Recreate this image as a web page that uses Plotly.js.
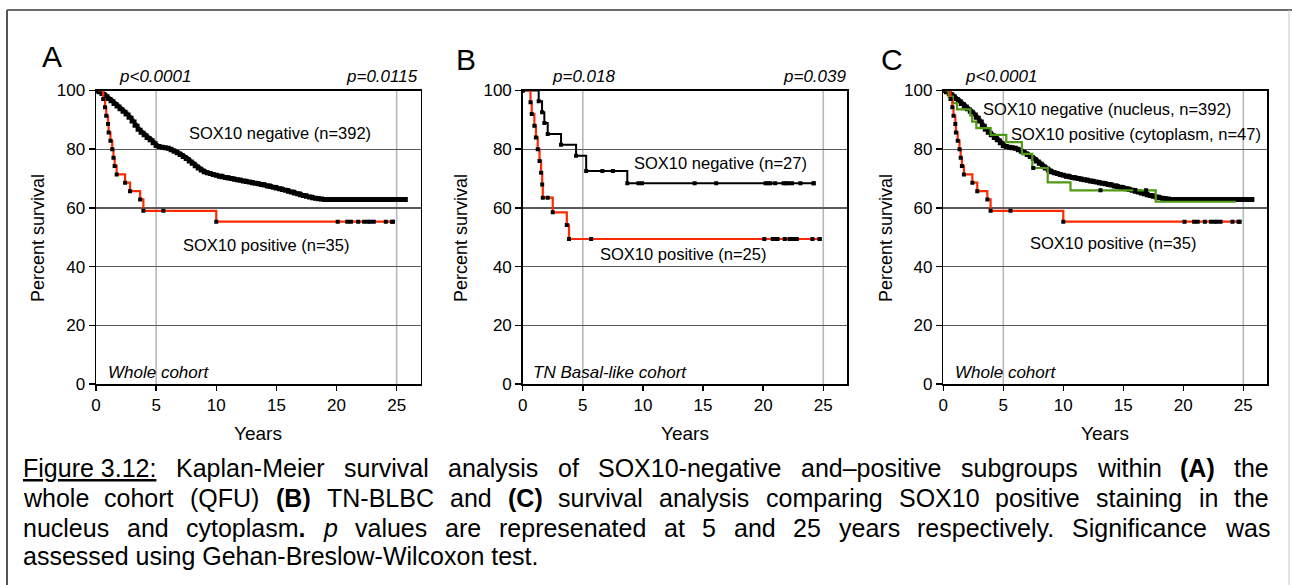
<!DOCTYPE html>
<html><head><meta charset="utf-8">
<script src="https://cdn.plot.ly/plotly-3.0.1.min.js"></script>
<style>html,body{margin:0;padding:0;background:#fff;}#chart{width:1292px;height:585px;}</style>
</head><body><div id="chart"></div>
<script>
// ---------------- DATA ----------------
// Whole cohort, SOX10 negative (n=392) – used in panels A and C
const negTimes = [0,0.25,0.5,0.75,1.0,1.25,1.5,1.75,2.0,2.25,2.5,2.75,3.0,3.25,3.5,3.75,4.0,4.25,4.5,4.75,5.0,5.25,5.5,5.75,6.0,6.25,6.5,6.75,7.0,7.25,7.5,7.75,8.0,8.25,8.5,8.75,9.0,9.25,9.5,9.75,10.0,10.5,11.0,11.5,12.0,12.5,13.0,13.5,14.0,14.5,15.0,15.5,16.0,16.5,17.0,17.5,18.0,18.5,19.0,25.7];
const negSurv  = [100,99.6,99.0,98.2,97.3,96.5,95.6,94.7,93.8,92.9,92.0,90.9,89.6,88.2,86.8,85.8,84.9,84.0,83.2,82.2,81.3,80.9,80.7,80.5,80.3,79.8,79.3,78.8,78.2,77.5,76.8,76.0,75.2,74.4,73.6,72.9,72.3,72.0,71.7,71.4,71.1,70.6,70.2,69.8,69.4,69.0,68.6,68.2,67.8,67.3,66.8,66.3,65.7,65.1,64.5,64.0,63.5,63.1,62.9,62.9];
const negCensorTimes = [10.25,10.75,11.25,11.75,12.25,12.75,13.25,13.75,14.25,14.75,15.25,15.75,16.25,16.75,17.25,17.75,18.25,18.75,19.3,19.6,19.9,20.2,20.5,20.8,21.1,21.4,21.7,22.0,22.3,22.6,22.9,23.2,23.5,23.8,24.1,24.4,24.7,25.0,25.3,25.7];
const negCensorSurv  = [70.8,70.4,70.0,69.6,69.2,68.8,68.4,68.0,67.5,67.0,66.5,66.0,65.4,64.8,64.2,63.7,63.3,63.0,62.9,62.9,62.9,62.9,62.9,62.9,62.9,62.9,62.9,62.9,62.9,62.9,62.9,62.9,62.9,62.9,62.9,62.9,62.9,62.9,62.9,62.9];

// Whole cohort, SOX10 positive (n=35) – panels A and C
const posTimes = [0,0.6,0.75,0.85,1.0,1.05,1.2,1.35,1.45,1.55,1.72,2.42,2.83,3.67,3.94,10.0,24.7];
const posSurv  = [100,97.1,94.3,91.4,88.6,85.7,82.9,80.0,77.1,74.3,71.4,68.6,65.7,62.9,59.0,55.3,55.3];
const posCensorTimes = [5.6,20.1,20.9,21.2,21.8,22.3,22.6,22.8,23.1,24.1,24.6];
const posCensorSurv  = [59.0,55.3,55.3,55.3,55.3,55.3,55.3,55.3,55.3,55.3,55.3];

// TN Basal-like cohort, SOX10 negative (n=27) – panel B
const tnNegTimes = [0,1.33,1.61,1.8,2.08,3.19,4.44,5.28,8.7,24.2];
const tnNegSurv  = [100,96.3,92.6,88.9,85.2,81.5,77.8,72.6,68.4,68.4];
const tnNegCensorTimes = [6.63,7.5,9.63,9.92,14.3,16.1,20.2,20.4,20.6,21.0,21.7,21.9,22.1,22.4,23.1,24.2];
const tnNegCensorSurv  = [72.6,72.6,68.4,68.4,68.4,68.4,68.4,68.4,68.4,68.4,68.4,68.4,68.4,68.4,68.4,68.4];

// TN Basal-like cohort, SOX10 positive (n=25) – panel B
const tnPosTimes = [0,0.65,0.75,0.97,1.1,1.25,1.4,1.53,1.62,1.67,2.5,3.67,3.85,24.7];
const tnPosSurv  = [100,96,92,88,84,80,76,72,68,63.5,58.5,54.2,49.4,49.4];
const tnPosCensorTimes = [2.08,5.69,20.1,20.8,21.0,21.2,21.8,22.2,22.4,22.6,22.8,24.1,24.7];
const tnPosCensorSurv  = [63.5,49.4,49.4,49.4,49.4,49.4,49.4,49.4,49.4,49.4,49.4,49.4,49.4];

// Whole cohort, SOX10 positive cytoplasm (n=47) – panel C
const cytoTimes = [0,0.44,0.8,1.14,2.25,2.4,2.75,3.95,5.25,6.55,7.42,8.7,10.6,17.7,24.4];
const cytoSurv  = [100,97.9,95.7,93.6,91.5,89.4,87.2,84.9,82.4,78.4,73.6,68.7,66.0,62.1,62.1];
const cytoCensorTimes = [7.5,13.1,16.0,16.9];
const cytoCensorSurv  = [73.6,66.0,66.0,66.0];

const xTicks = [0,5,10,15,20,25];
const yTicks = [0,20,40,60,80,100];
const gridYears = [5,25];

// ---------------- STYLE ----------------
const W = 1292, H = 585;
const px = x => x / W, py = y => 1 - y / H;
const FF = 'Liberation Sans, Arial, Helvetica, sans-serif';
const RED = '#ff2a00', GREEN = '#4f9a12', BLACK = '#000000';
const yDom = [py(384), py(90.5)];
const xDoms = [[px(96), px(420.7)], [px(522.7), px(847.3)], [px(943.3), px(1267.3)]];

function stepTrace(t, s, ax, color, width, msize) {
  return {x: t, y: s, xaxis: 'x' + ax, yaxis: 'y' + ax, type: 'scatter', mode: 'lines+markers',
    line: {shape: 'hv', color: color, width: width},
    marker: {symbol: 'square', size: msize, color: BLACK}, hoverinfo: 'skip', showlegend: false};
}
function censorTrace(t, s, ax, msize) {
  return {x: t, y: s, xaxis: 'x' + ax, yaxis: 'y' + ax, type: 'scatter', mode: 'markers',
    marker: {symbol: 'square', size: msize, color: BLACK}, hoverinfo: 'skip', showlegend: false};
}

const traces = [
  // A
  stepTrace(negTimes, negSurv, '', BLACK, 3, 5),
  censorTrace(negCensorTimes, negCensorSurv, '', 5),
  stepTrace(posTimes, posSurv, '', RED, 2.2, 4),
  censorTrace(posCensorTimes, posCensorSurv, '', 4),
  // B
  stepTrace(tnNegTimes, tnNegSurv, '2', BLACK, 2, 4),
  censorTrace(tnNegCensorTimes, tnNegCensorSurv, '2', 4),
  stepTrace(tnPosTimes, tnPosSurv, '2', RED, 2.2, 4),
  censorTrace(tnPosCensorTimes, tnPosCensorSurv, '2', 4),
  // C
  stepTrace(negTimes, negSurv, '3', BLACK, 3, 5),
  censorTrace(negCensorTimes, negCensorSurv, '3', 5),
  {x: cytoTimes, y: cytoSurv, xaxis: 'x3', yaxis: 'y3', type: 'scatter', mode: 'lines',
   line: {shape: 'hv', color: GREEN, width: 2.2}, hoverinfo: 'skip', showlegend: false},
  censorTrace(cytoCensorTimes, cytoCensorSurv, '3', 4),
  stepTrace(posTimes, posSurv, '3', RED, 2.2, 4),
  censorTrace(posCensorTimes, posCensorSurv, '3', 4)
];

function xAxis(i) {
  return {domain: xDoms[i], anchor: 'y' + (i ? i + 1 : ''), range: [0, 27], tickvals: xTicks,
    ticks: 'outside', ticklen: 5, tickwidth: 1.5, tickcolor: BLACK, showline: true, linecolor: BLACK,
    linewidth: 1.5, mirror: true, showgrid: false, zeroline: false,
    tickfont: {size: 17, color: BLACK, family: FF}, fixedrange: true};
}
function yAxis(i) {
  return {domain: yDom, anchor: 'x' + (i ? i + 1 : ''), range: [0, 100], tickvals: yTicks,
    ticks: 'outside', ticklen: 6, tickwidth: 1.5, tickcolor: BLACK, showline: true, linecolor: BLACK,
    linewidth: 1.5, mirror: true, showgrid: true, gridcolor: '#5a5a5a', gridwidth: 1.3, zeroline: false,
    tickfont: {size: 17, color: BLACK, family: FF}, fixedrange: true};
}

const shapes = [];
['', '2', '3'].forEach(a => gridYears.forEach(g => shapes.push({type: 'line', xref: 'x' + a, yref: 'y' + a,
  x0: g, x1: g, y0: 0, y1: 100, line: {color: '#b9b9b9', width: 1.6}, layer: 'below'})));
// page frame
shapes.push({type: 'line', xref: 'paper', yref: 'paper', x0: px(7), x1: 1, y0: py(10), y1: py(10), line: {color: '#3a3a3a', width: 1.5}});
shapes.push({type: 'line', xref: 'paper', yref: 'paper', x0: px(7), x1: px(7), y0: py(10), y1: 0, line: {color: '#555', width: 2}});
shapes.push({type: 'line', xref: 'paper', yref: 'paper', x0: px(1289), x1: px(1289), y0: py(10), y1: 0, line: {color: '#c8c8c8', width: 1}});

const ann = [];
function txt(text, x, y, size, opts) {
  ann.push(Object.assign({text: text, xref: 'paper', yref: 'paper', x: px(x), y: py(y), showarrow: false,
    xanchor: 'center', yanchor: 'middle', borderpad: 0, font: {size: size, color: BLACK, family: FF}}, opts || {}));
}
// panel letters
txt('A', 52, 57, 30); txt('B', 466, 60, 30); txt('C', 892, 60, 30);
// p values
txt('<i>p&lt;0.0001</i>', 155, 77, 17);
txt('<i>p=0.0115</i>', 419, 77, 17, {xanchor: 'right'});
txt('<i>p=0.018</i>', 583, 77, 17);
txt('<i>p=0.039</i>', 847, 77, 17, {xanchor: 'right'});
txt('<i>p&lt;0.0001</i>', 1001, 77, 17);
// curve labels
txt('SOX10 negative (n=392)', 280, 133, 16.5);
txt('SOX10 positive (n=35)', 266, 245, 16.5);
txt('SOX10 negative (n=27)', 720, 163, 16.5);
txt('SOX10 positive (n=25)', 683, 254, 16.5);
txt('SOX10 negative (nucleus, n=392)', 1107, 109, 16.5);
txt('SOX10 positive (cytoplasm, n=47)', 1136, 134, 16.5);
txt('SOX10 positive (n=35)', 1113, 243, 16.5);
// cohort labels
txt('<i>Whole cohort</i>', 107, 372, 17, {xanchor: 'left'});
txt('<i>TN Basal-like cohort</i>', 532, 372, 17, {xanchor: 'left'});
txt('<i>Whole cohort</i>', 954, 372, 17, {xanchor: 'left'});
// axis titles
[[38, 258], [461, 685], [886, 1105]].forEach(([yx, xc]) => {
  txt('Percent survival', yx, 238, 18, {textangle: -90});
  txt('Years', xc, 433, 19);
});

// caption (justified lines)
const CAP = 25;
const capLines = [
  {y: 468, just: true, tokens: [[['Figure 3.12:', 'u']], 'Kaplan-Meier', 'survival', 'analysis', 'of', 'SOX10-negative', 'and–positive', 'subgroups', 'within', [['(A)', 'b']], 'the']},
  {y: 498, just: true, tokens: ['whole', 'cohort', '(QFU)', [['(B)', 'b']], 'TN-BLBC', 'and', [['(C)', 'b']], 'survival', 'analysis', 'comparing', 'SOX10', 'positive', 'staining', 'in', 'the']},
  {y: 528, just: true, tokens: ['nucleus', 'and', [['cytoplasm', ''], ['.', 'b']], [['p', 'i']], 'values', 'are', 'represenated', 'at', '5', 'and', '25', 'years', 'respectively.', 'Significance', 'was']},
  {y: 556, just: false, tokens: ['assessed using Gehan-Breslow-Wilcoxon test.']}
];
const ctx = document.createElement('canvas').getContext('2d');
function segs(tok) { return typeof tok === 'string' ? [[tok, '']] : tok; }
function segWidth(tok) {
  return segs(tok).reduce((a, [t, s]) => {
    ctx.font = (s === 'i' ? 'italic ' : '') + (s === 'b' ? 'bold ' : '') + CAP + 'px "Liberation Sans", Arial, sans-serif';
    return a + ctx.measureText(t).width;
  }, 0);
}
function segHTML(tok) {
  return segs(tok).map(([t, s]) => s === 'b' ? '<b>' + t + '</b>' : s === 'i' ? '<i>' + t + '</i>' :
    s === 'u' ? '<span style="text-decoration:underline">' + t + '</span>' : t).join('');
}
const L = 22, R = 1268;
capLines.forEach(line => {
  const widths = line.tokens.map(segWidth);
  const total = widths.reduce((a, b) => a + b, 0);
  const gap = line.just ? (R - L - total) / (line.tokens.length - 1) : 0;
  let x = L;
  line.tokens.forEach((tok, i) => {
    txt(segHTML(tok), x, line.y, CAP, {xanchor: 'left'});
    x += widths[i] + gap;
  });
});

const layout = {
  width: W, height: H, margin: {l: 0, r: 0, t: 0, b: 0}, paper_bgcolor: '#fff', plot_bgcolor: '#fff',
  showlegend: false, font: {family: FF, color: BLACK},
  xaxis: xAxis(0), xaxis2: xAxis(1), xaxis3: xAxis(2),
  yaxis: yAxis(0), yaxis2: yAxis(1), yaxis3: yAxis(2),
  shapes: shapes, annotations: ann
};
Plotly.newPlot('chart', traces, layout, {displayModeBar: false, staticPlot: true});
</script></body></html>
